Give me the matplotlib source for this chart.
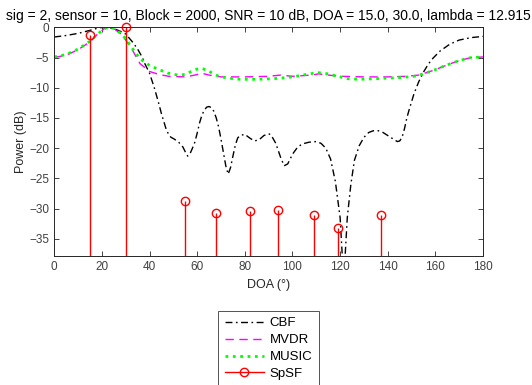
import numpy as np
import matplotlib
matplotlib.use("Agg")
import matplotlib.pyplot as plt
from matplotlib.lines import Line2D

plt.rcParams['font.family'] = ['Liberation Sans', 'DejaVu Sans']

title = "sig = 2, sensor = 10, Block = 2000, SNR = 10 dB, DOA = 15.0, 30.0, lambda = 12.915"

# CBF spectrum (dB)
cbf_doa = [0, 5, 10, 15, 19, 22, 25, 28, 30, 33, 35, 37, 38, 40, 42, 44, 45, 46, 47, 48,
           49, 50, 52, 54, 55, 56, 57, 58, 59, 60, 61, 62, 63, 64, 65, 66, 67, 68, 69, 70,
           71, 72, 73, 74, 75, 76, 77, 78, 80, 82, 84, 86, 88, 90, 91, 93, 95, 96.5, 98,
           100, 102, 104, 107, 110, 112, 114, 116, 118, 120, 121.5, 123, 124.5, 126, 128,
           130, 132, 134, 136, 138, 140, 142, 144, 145, 146, 147, 148, 149, 151, 153, 155,
           157, 159, 162, 166, 170, 175, 180]
cbf_pow = [-1.6, -1.35, -1.0, -0.5, -0.05, 0, -0.2, -0.7, -1.1, -2.5, -3.6, -5.0, -6.0,
           -7.6, -10.0, -12.8, -14.3, -15.6, -16.9, -17.7, -18.2, -18.4, -18.9, -19.8,
           -20.6, -21.3, -20.9, -20.0, -19.0, -17.5, -15.8, -14.5, -13.7, -13.2, -13.1,
           -13.3, -13.9, -15.0, -16.5, -18.5, -20.7, -22.9, -24.3, -23.2, -21.3, -19.5,
           -18.3, -17.9, -17.7, -18.3, -18.8, -18.6, -17.9, -17.6, -17.8, -19.2, -21.5,
           -22.9, -22.6, -21.0, -19.9, -19.3, -19.0, -18.9, -19.2, -20.0, -21.8, -25.5,
           -31.5, -42.0, -31.5, -26.0, -22.0, -19.6, -18.2, -17.4, -17.1, -17.1, -17.4,
           -17.9, -18.4, -18.9, -18.8, -18.2, -16.8, -15.0, -13.6, -11.0, -9.0, -7.4,
           -6.1, -5.1, -3.9, -2.8, -2.1, -1.7, -1.5]

# MVDR spectrum (dB)
mvdr_doa = [0, 5, 10, 15, 18, 21, 23, 25, 28, 30, 33, 36, 40, 44, 48, 55, 59, 62, 65, 70,
            80, 90, 95, 100, 108, 111, 115, 120, 130, 140, 148, 153, 157, 160, 165, 170,
            175, 180]
mvdr_pow = [-5.0, -4.6, -3.7, -2.4, -1.2, -0.2, 0, -0.2, -1.1, -2.1, -3.9, -6.0, -7.3,
            -7.8, -8.1, -8.2, -7.9, -7.6, -7.9, -8.2, -8.2, -8.1, -7.9, -8.1, -7.9, -7.7,
            -7.9, -8.1, -8.2, -8.2, -8.1, -7.9, -7.4, -7.0, -6.2, -5.5, -5.0, -4.9]

# MUSIC spectrum (dB)
music_doa = [0, 5, 10, 15, 18, 21, 23, 25, 28, 30, 33, 36, 40, 44, 48, 52, 55, 56, 58, 60,
             62, 64, 66, 69, 73, 78, 85, 92, 98, 103, 107, 111, 115, 119, 123, 128, 135,
             140, 146, 151, 155, 160, 165, 170, 175, 180]
music_pow = [-4.9, -4.5, -3.6, -2.3, -1.2, -0.2, 0, -0.2, -1.0, -1.9, -3.6, -5.2, -6.3,
             -7.0, -7.6, -7.9, -7.8, -7.6, -7.2, -6.9, -6.8, -7.1, -7.5, -8.1, -8.4, -8.6,
             -8.6, -8.5, -8.3, -8.0, -7.7, -7.5, -7.7, -8.1, -8.5, -8.6, -8.5, -8.4, -8.3,
             -8.1, -7.7, -7.0, -6.2, -5.5, -5.0, -4.9]

# SpSF sparse estimates
spsf_doa = [15, 30, 55, 68, 82, 94, 109, 119, 137]
spsf_pow = [-1.2, 0.0, -28.7, -30.7, -30.4, -30.2, -31.1, -33.2, -31.1]

ymin = -37.9
cbf_dash = (5, 2.5, 1.2, 2.5)

fig = plt.figure(figsize=(5.32, 3.85), dpi=100)
ax = fig.add_axes([0.102, 0.334, 0.806, 0.595])

ax.plot(cbf_doa, cbf_pow, color='black', linestyle='-.', linewidth=1.0, dashes=cbf_dash)
ax.plot(mvdr_doa, mvdr_pow, color='#ff00ff', linestyle='--', linewidth=1.0,
        dashes=(6, 4))
ax.plot(music_doa, music_pow, color='#00ff00', linestyle=':', linewidth=2.0)
ax.vlines(spsf_doa, ymin, spsf_pow, color='red', linewidth=1.0)
ax.plot(spsf_doa, spsf_pow, 'o', color='red', mfc='none', markersize=6, mew=1.0,
        clip_on=False)

ax.set_xlim(0, 180)
ax.set_ylim(ymin, 0)
ax.set_xticks(np.arange(0, 181, 20))
ax.set_yticks(np.arange(-35, 1, 5))
ax.tick_params(direction='in', top=True, right=True, length=3.5, width=0.6,
               labelsize=8.5, colors='#262626', labelcolor='#404040')
for s in ax.spines.values():
    s.set_color('#262626')
    s.set_linewidth(0.7)

ax.set_xlabel('DOA (°)', fontsize=9, color='#262626', labelpad=4)
ax.set_ylabel('Power (dB)', fontsize=9, color='#262626', labelpad=2)
ax.set_title(title, fontsize=10, color='black', pad=5)

handles = [
    Line2D([], [], color='black', linestyle='-.', linewidth=1.0, dashes=cbf_dash),
    Line2D([], [], color='#ff00ff', linestyle='--', linewidth=1.0, dashes=(6, 4)),
    Line2D([], [], color='#00ff00', linestyle=':', linewidth=2.0),
    Line2D([], [], color='red', marker='o', mfc='none', markersize=6, linewidth=1.0),
]
leg = fig.legend(handles, ['CBF', 'MVDR', 'MUSIC', 'SpSF'], loc='upper center',
                 bbox_to_anchor=(268.5 / 532, 1 - 304 / 385), fontsize=9.5,
                 frameon=True, fancybox=False, handlelength=3.0,
                 labelspacing=0.35, borderpad=0.5, handletextpad=0.4)
leg.get_frame().set_edgecolor('#262626')
leg.get_frame().set_linewidth(0.7)

fig.savefig('out.png', dpi=100)
